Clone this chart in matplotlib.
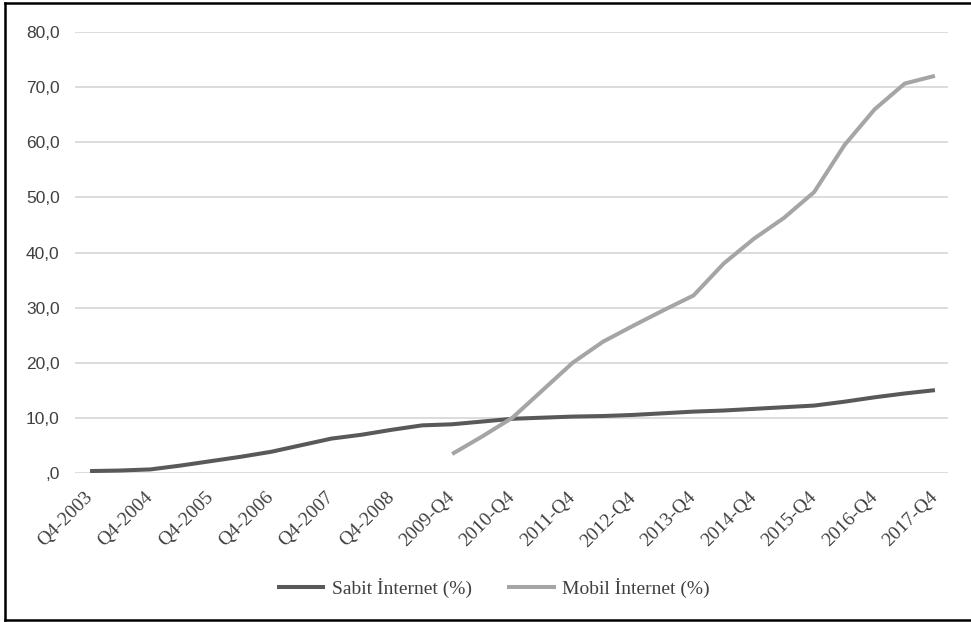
import numpy as np
import matplotlib
matplotlib.use("Agg")
import matplotlib.pyplot as plt
from matplotlib.lines import Line2D
from matplotlib.transforms import ScaledTranslation

# half-year periods, Q4-2003 .. 2017-Q4
periods = ["Q4-2003", "Q2-2004", "Q4-2004", "Q2-2005", "Q4-2005", "Q2-2006",
           "Q4-2006", "Q2-2007", "Q4-2007", "Q2-2008", "Q4-2008", "2009-Q2",
           "2009-Q4", "2010-Q2", "2010-Q4", "2011-Q2", "2011-Q4", "2012-Q2",
           "2012-Q4", "2013-Q2", "2013-Q4", "2014-Q2", "2014-Q4", "2015-Q2",
           "2015-Q4", "2016-Q2", "2016-Q4", "2017-Q2", "2017-Q4"]

sabit = [0.3, 0.4, 0.6, 1.3, 2.1, 2.9, 3.8, 5.0, 6.2, 6.9, 7.8, 8.6, 8.8,
         9.3, 9.8, 10.0, 10.2, 10.3, 10.5, 10.8, 11.1, 11.3, 11.6, 11.9,
         12.2, 12.9, 13.7, 14.4, 15.0]

# mobile series starts at 2009-Q4
mobil_start = 12
mobil = [3.4, 6.6, 10.0, 15.0, 20.0, 23.8, 26.7, 29.5, 32.2, 38.0, 42.5,
         46.3, 51.0, 59.5, 66.0, 70.7, 72.1]

tick_labels = periods[::2]
y_ticks = [0, 10, 20, 30, 40, 50, 60, 70, 80]
y_labels = [",0", "10,0", "20,0", "30,0", "40,0", "50,0", "60,0", "70,0", "80,0"]

fig = plt.figure(figsize=(9.71, 6.22), dpi=100)
ax = fig.add_axes([0.0772, 0.240, 0.899, 0.708])

x = np.arange(len(periods))
xm = np.arange(mobil_start, mobil_start + len(mobil))

ax.plot(x, sabit, color="#595959", lw=2.9, solid_capstyle="butt",
        label="Sabit İnternet (%)", zorder=3)
ax.plot(xm, mobil, color="#a5a5a5", lw=2.9, solid_capstyle="butt",
        label="Mobil İnternet (%)", zorder=3)

ax.set_xlim(-0.5, 28.43)
ax.set_ylim(0, 80)
ax.set_yticks(y_ticks)
ax.set_yticklabels(y_labels, fontsize=12.5, color="#404040",
                   family="Liberation Sans")
ax.set_xticks(x[::2])
ax.set_xticklabels(tick_labels, fontsize=14, color="#404040",
                   family="Liberation Serif", rotation=45, ha="right",
                   rotation_mode="anchor", va="center")
# shift rotated labels a little to the right
shift = ScaledTranslation(6 / 100, 0, fig.dpi_scale_trans)
for lbl in ax.get_xticklabels():
    lbl.set_transform(lbl.get_transform() + shift)
ax.tick_params(axis="both", length=0)
ax.tick_params(axis="y", pad=11)
ax.tick_params(axis="x", pad=16)

ax.grid(axis="y", color="#d9d9d9", lw=1.3)
ax.set_axisbelow(True)
for s in ax.spines.values():
    s.set_visible(False)

leg = fig.legend(loc="center", bbox_to_anchor=(0.508, 1 - 588 / 622), ncol=2,
                 frameon=False, handlelength=2.5, handletextpad=0.35,
                 columnspacing=1.8,
                 prop={"family": "Liberation Serif", "size": 14})
for t in leg.get_texts():
    t.set_color("#404040")

# outer frame
fig.add_artist(Line2D([5 / 971, 5 / 971], [2 / 622, 619 / 622], color="black", lw=1.8))
fig.add_artist(Line2D([5 / 971, 1], [619 / 622, 619 / 622], color="black", lw=1.8))
fig.add_artist(Line2D([5 / 971, 1], [2 / 622, 2 / 622], color="black", lw=1.8))

fig.savefig("out.png", dpi=100)
